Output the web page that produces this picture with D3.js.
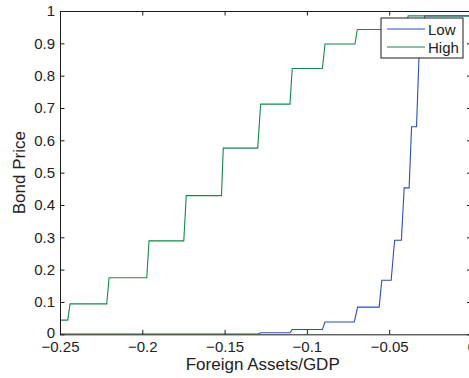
<!DOCTYPE html>
<html><head><meta charset="utf-8">
<script src="https://cdn.jsdelivr.net/npm/d3@7"></script>
<style>body{margin:0;background:#fff}svg{display:block}</style>
</head><body>
<script>
// Data (x = Foreign Assets/GDP, y = Bond Price)
const seriesNames = ["Low", "High"];
const lowX = [-0.25, -0.1299, -0.1281, -0.1103, -0.1089, -0.0906, -0.0890, -0.0712, -0.0692, -0.0561, -0.0545, -0.0488, -0.0467, -0.0426, -0.0409, -0.0379, -0.0364, -0.0334, -0.0316, -0.0300, -0.0285, 0];
const lowY = [0.0005, 0.0005, 0.005, 0.005, 0.015, 0.015, 0.038, 0.038, 0.084, 0.084, 0.167, 0.167, 0.291, 0.291, 0.453, 0.453, 0.642, 0.642, 0.90, 0.90, 0.985, 0.985];
const highX = [-0.25, -0.2453, -0.2439, -0.2216, -0.2202, -0.1973, -0.1959, -0.1748, -0.1733, -0.1519, -0.1508, -0.1299, -0.1281, -0.1103, -0.1089, -0.0906, -0.0890, -0.0708, -0.0694, -0.0400, -0.0385, 0];
const highY = [0.044, 0.044, 0.094, 0.094, 0.175, 0.175, 0.289, 0.289, 0.429, 0.429, 0.576, 0.576, 0.712, 0.712, 0.822, 0.822, 0.898, 0.898, 0.943, 0.943, 0.985, 0.985];
const xTicks = [-0.25, -0.2, -0.15, -0.1, -0.05, 0];
const yTicks = [0, 0.1, 0.2, 0.3, 0.4, 0.5, 0.6, 0.7, 0.8, 0.9, 1];
const xLabel = "Foreign Assets/GDP";
const yLabel = "Bond Price";

const W = 469, H = 378;
const colors = {Low: "#2b4fb3", High: "#15884a"};
const axisColor = "#1a1a1a";
const font = "'Liberation Sans', Arial, sans-serif";

const svg = d3.select("body").append("svg").attr("width", W).attr("height", H)
  .style("font-family", font);

const x = d3.scaleLinear().domain([-0.25, 0]).range([60, 471.5]);
const y = d3.scaleLinear().domain([0, 1]).range([334.3, 11]);

const fmt = v => (v === 0 ? "0" : String(v).replace("-", "\u2212"));

svg.append("clipPath").attr("id", "clip").append("rect")
  .attr("x", x(-0.25)).attr("y", y(1)).attr("width", x(0) - x(-0.25)).attr("height", y(0) - y(1));

const line = d3.line().x(d => x(d[0])).y(d => y(d[1]));
const lowData = lowX.map((v, i) => [v, lowY[i]]);
const highData = highX.map((v, i) => [v, highY[i]]);

const g = svg.append("g").attr("clip-path", "url(#clip)");
g.append("path").datum(lowData).attr("d", line).attr("fill", "none")
  .attr("stroke", colors.Low).attr("stroke-width", 1.1);
g.append("path").datum(highData).attr("d", line).attr("fill", "none")
  .attr("stroke", colors.High).attr("stroke-width", 1.1);

const tickLen = 4.5;
const styleAxis = (sel) => {
  sel.selectAll("path.domain").attr("stroke", axisColor).attr("stroke-width", 1);
  sel.selectAll(".tick line").attr("stroke", axisColor).attr("stroke-width", 1);
  sel.selectAll(".tick text").attr("fill", "#222").style("font-size", "15px").style("font-family", font);
};

const xb = svg.append("g").attr("transform", `translate(0,${y(0)})`)
  .call(d3.axisBottom(x).tickValues(xTicks).tickFormat(fmt).tickSizeInner(-tickLen).tickSizeOuter(0));
styleAxis(xb);
xb.selectAll(".tick text").attr("dy", "0.71em").attr("y", 7.5);

const xt = svg.append("g").attr("transform", `translate(0,${y(1)})`)
  .call(d3.axisTop(x).tickValues(xTicks).tickFormat("").tickSizeInner(-tickLen).tickSizeOuter(0));
styleAxis(xt);

const yl = svg.append("g").attr("transform", `translate(${x(-0.25)},0)`)
  .call(d3.axisLeft(y).tickValues(yTicks).tickFormat(fmt).tickSizeInner(-tickLen).tickSizeOuter(0));
styleAxis(yl);
yl.selectAll(".tick text").attr("x", -5).attr("y", d => (d === 0 ? -1.5 : 0));

const yr = svg.append("g").attr("transform", `translate(${x(0)},0)`)
  .call(d3.axisRight(y).tickValues(yTicks).tickFormat("").tickSizeInner(-tickLen).tickSizeOuter(0));
styleAxis(yr);

svg.append("text").attr("x", (x(-0.25) + x(0)) / 2 - 3).attr("y", 370)
  .attr("text-anchor", "middle").attr("fill", "#222").style("font-size", "17px").text(xLabel);
svg.append("text").attr("transform", `translate(25,${(y(0) + y(1)) / 2}) rotate(-90)`)
  .attr("text-anchor", "middle").attr("fill", "#222").style("font-size", "17px").text(yLabel);

const lg = svg.append("g");
lg.append("rect").attr("x", 381).attr("y", 18).attr("width", 82).attr("height", 40)
  .attr("fill", "#fff").attr("stroke", axisColor).attr("stroke-width", 1);
seriesNames.forEach((name, i) => {
  const cy = 29 + i * 18;
  lg.append("line").attr("x1", 387).attr("x2", 425).attr("y1", cy).attr("y2", cy)
    .attr("stroke", colors[name]).attr("stroke-width", 1.1);
  lg.append("text").attr("x", 428).attr("y", cy + 5.5).attr("fill", "#222")
    .style("font-size", "15px").text(name);
});
</script>
</body></html>
